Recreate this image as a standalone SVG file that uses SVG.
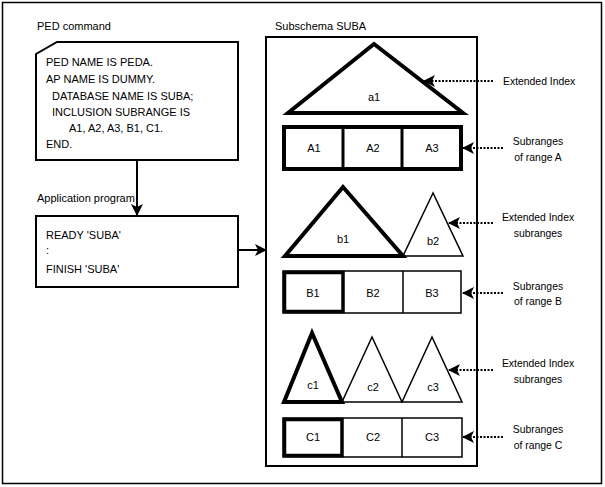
<svg xmlns="http://www.w3.org/2000/svg" width="605" height="487" viewBox="0 0 605 487">
<style>
text{font-family:"Liberation Sans",Arial,sans-serif;font-size:11px;fill:#000}
.m{text-anchor:middle}
.lb{font-size:10.4px}
.thin{fill:#fff;stroke:#000;stroke-width:1.5}
.thick{fill:#fff;stroke:#000;stroke-width:4;stroke-linejoin:miter}
.box{fill:#fff;stroke:#000;stroke-width:2}
.dot{fill:none;stroke:#000;stroke-width:2;stroke-dasharray:2 1.5}
.solid{fill:none;stroke:#000;stroke-width:2}
</style>
<defs>
<marker id="ah" markerWidth="12" markerHeight="12" refX="11" refY="6" orient="auto" markerUnits="userSpaceOnUse">
<path d="M0,0 L12,6 L0,12 L3,6 Z" fill="#000"/>
</marker>
</defs>
<rect x="0" y="0" width="605" height="487" fill="#fff"/>
<rect x="2.5" y="2.5" width="599" height="481" fill="none" stroke="#000" stroke-width="1.5"/>

<g id="ped">
<text x="37" y="30">PED command</text>
<path class="box" d="M57,42 H238 V160 H36 V54 Z"/>
<text x="46" y="66">PED NAME IS PEDA.</text>
<text x="46" y="83">AP NAME IS DUMMY.</text>
<text x="52" y="100">DATABASE NAME IS SUBA;</text>
<text x="52" y="116">INCLUSION SUBRANGE IS</text>
<text x="69" y="132">A1, A2, A3, B1, C1.</text>
<text x="46" y="148">END.</text>
</g>

<g id="app">
<text x="37" y="202">Application program</text>
<rect class="box" x="36" y="216" width="202" height="71"/>
<text x="46" y="239">READY 'SUBA'</text>
<text x="46" y="254">:</text>
<text x="46" y="273">FINISH 'SUBA'</text>
</g>

<g id="subschema">
<text x="275" y="30">Subschema SUBA</text>
<rect class="box" x="266" y="37" width="211" height="429"/>
</g>

<g id="a1">
<polygon class="thick" points="374,44 288,113 463,113"/>
<text class="m" x="374" y="101">a1</text>
</g>
<g id="rangeA">
<rect class="thick" x="284" y="127" width="177" height="42"/>
<line x1="343" y1="127" x2="343" y2="169" stroke="#000" stroke-width="3"/>
<line x1="402" y1="127" x2="402" y2="169" stroke="#000" stroke-width="3"/>
<text class="m" x="314" y="152">A1</text>
<text class="m" x="373" y="152">A2</text>
<text class="m" x="432" y="152">A3</text>
</g>

<g id="b2">
<polygon class="thin" points="433,193 403,256 463,256"/>
<text class="m" x="433" y="245">b2</text>
</g>
<g id="b1">
<polygon class="thick" points="343,187 285,256 403,256"/>
<text class="m" x="343" y="243">b1</text>
</g>
<g id="rangeB">
<rect class="thin" x="283" y="271" width="178" height="42"/>
<line x1="403" y1="271" x2="403" y2="313" stroke="#000" stroke-width="1.5"/>
<rect x="284.5" y="272.5" width="58.5" height="39" fill="none" stroke="#000" stroke-width="3.5"/>
<text class="m" x="313" y="297">B1</text>
<text class="m" x="373" y="297">B2</text>
<text class="m" x="432" y="297">B3</text>
</g>

<g id="c2">
<polygon class="thin" points="372,337 342,402 402,402"/>
<text class="m" x="373" y="391">c2</text>
</g>
<g id="c3">
<polygon class="thin" points="432,337 402,402 462,402"/>
<text class="m" x="433" y="391">c3</text>
</g>
<g id="c1">
<polygon class="thick" points="312,333 284,402 342,402"/>
<text class="m" x="313" y="389">c1</text>
</g>
<g id="rangeC">
<rect class="thin" x="283" y="418" width="179" height="39"/>
<line x1="402" y1="418" x2="402" y2="457" stroke="#000" stroke-width="1.5"/>
<rect x="284.5" y="419.5" width="57.5" height="36" fill="none" stroke="#000" stroke-width="3.5"/>
<text class="m" x="313" y="441">C1</text>
<text class="m" x="373" y="441">C2</text>
<text class="m" x="432" y="441">C3</text>
</g>

<g id="labels">
<text class="lb" x="503" y="85">Extended Index</text>
<text class="m lb" x="538" y="145">Subranges</text>
<text class="m lb" x="538" y="161">of range A</text>
<text class="m lb" x="538" y="221">Extended Index</text>
<text class="m lb" x="538" y="237">subranges</text>
<text class="m lb" x="538" y="290">Subranges</text>
<text class="m lb" x="538" y="305">of range B</text>
<text class="m lb" x="538" y="367">Extended Index</text>
<text class="m lb" x="538" y="383">subranges</text>
<text class="m lb" x="538" y="433">Subranges</text>
<text class="m lb" x="538" y="449">of range C</text>
</g>

<g id="connectors">
<line class="solid" x1="137" y1="160" x2="137" y2="215" marker-end="url(#ah)"/>
<line class="solid" x1="238" y1="250" x2="266" y2="250" marker-end="url(#ah)"/>
<line class="dot" x1="493" y1="81" x2="424" y2="81" marker-end="url(#ah)"/>
<line class="dot" x1="503" y1="148" x2="463" y2="148" marker-end="url(#ah)"/>
<line class="dot" x1="493" y1="223" x2="449" y2="223" marker-end="url(#ah)"/>
<line class="dot" x1="503" y1="293" x2="463" y2="293" marker-end="url(#ah)"/>
<line class="dot" x1="493" y1="370" x2="449" y2="370" marker-end="url(#ah)"/>
<line class="dot" x1="503" y1="437" x2="463" y2="437" marker-end="url(#ah)"/>
</g>
</svg>
